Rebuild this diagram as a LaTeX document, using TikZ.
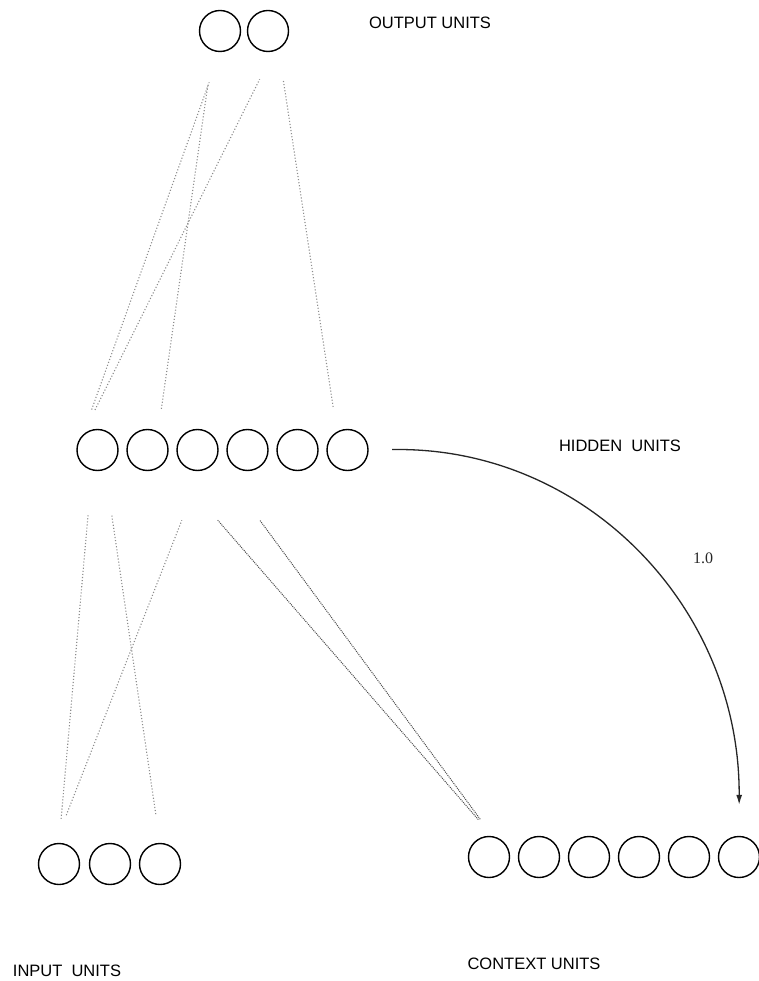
\documentclass[tikz,border=0pt]{standalone}
\usepackage{fontspec}
\setmainfont{Liberation Sans}
\newfontfamily\numfont{Liberation Serif}
\usetikzlibrary{arrows.meta}

\begin{document}
\begin{tikzpicture}[x=1pt,y=1pt]
\tikzstyle{every node}+=[inner sep=0pt]
\tikzstyle{unit}=[draw=black, line width=1.4pt, circle, minimum size=41pt]
\tikzstyle{link}=[black!45, dotted, line width=1.1pt]
\tikzstyle{ctxlink}=[black!70, densely dotted, line width=1pt]
\tikzstyle{layername}=[font=\fontsize{16.5}{16.5}\selectfont]
\useasboundingbox (0,0) rectangle (759,-981);
% output layer
\node [unit] (o1) at (220,-31) {};
\node [unit] (o2) at (268,-31) {};
% hidden layer
\foreach \i in {1,...,6}
  \node [unit] (h\i) at ({47.5+50*\i},-450) {};
% input layer
\node [unit] (i1) at (59,-864) {};
\node [unit] (i2) at (110,-864) {};
\node [unit] (i3) at (160,-864) {};
% context layer
\foreach \i in {1,...,6}
  \node [unit] (c\i) at ({439+50*\i},-857) {};
% hidden to output
\draw [link, shorten <=27pt, shorten >=32pt] (h1.135) -- (o1.south);
\draw [link, shorten <=28pt, shorten >=31pt] (h1.135) -- (o2.-75);
\draw [link, shorten <=23pt, shorten >=33pt] (h2.60) -- (o1.-110);
\draw [link, shorten <=25pt, shorten >=32pt] (h6.120) -- (o2.-60);
% input to hidden
\draw [link, shorten <=24pt, shorten >=45pt] (i1.north) -- (h1.-105);
\draw [link, shorten <=29pt, shorten >=46pt] (i3.north) -- (h1.-69);
\draw [link, shorten <=30pt, shorten >=53pt] (i1.100) -- (h3.-80);
% context to hidden
\draw [ctxlink, shorten <=22pt, shorten >=79pt] (c1.80) -- (h2.-30);
\draw [ctxlink, shorten <=21pt, shorten >=74pt] (c1.80) -- (h3.-30);
% copy back
\draw [black!85, line width=1.3pt, shorten <=23.5pt, shorten >=31pt,
  -{Latex[length=10pt,width=6pt]}]
  (h6.east) .. controls +(216,4) and +(1,229) .. (c6.north)
  node [pos=0.5, xshift=68pt, yshift=-3pt, font=\numfont\fontsize{16}{16}\selectfont] {1.0};
% labels
\node [layername] (outlbl) at (430,-23) {OUTPUT UNITS};
\node [layername] (hidlbl) at (620,-446) {HIDDEN\ \ UNITS};
\node [layername] (inlbl) at (67,-971) {INPUT\ \ UNITS};
\node [layername] (ctxlbl) at (534,-964) {CONTEXT UNITS};
\end{tikzpicture}
\end{document}
